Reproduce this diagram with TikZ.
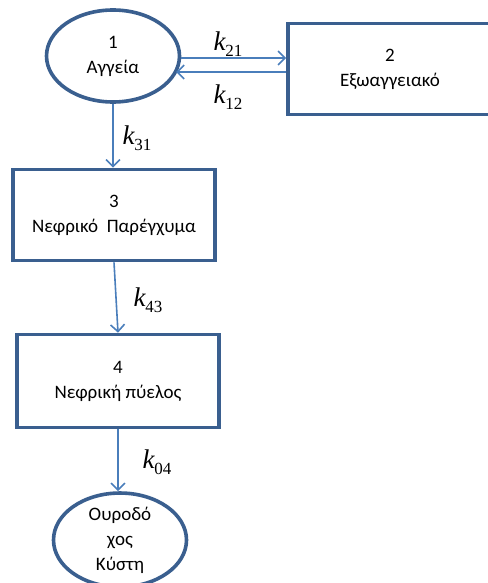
\documentclass[tikz,border=0pt]{standalone}
\usepackage{fontspec}
\setmainfont{Carlito}
\newfontfamily\ratefont{Liberation Serif}
\usetikzlibrary{shapes.geometric,arrows.meta}
\definecolor{boxblue}{HTML}{3A5F8F}
\definecolor{arrowblue}{HTML}{4A7EBB}
\newcommand{\krate}[1]{{\ratefont\fontsize{27}{27}\selectfont\itshape k\raisebox{-6pt}{\fontsize{17}{17}\selectfont\upshape #1}}}
\tikzset{
    comp/.style={draw=boxblue, line width=3.6pt, fill=white, align=center, inner sep=0pt,
        font=\fontsize{19}{25}\selectfont},
    compbox/.style={comp, rectangle, minimum width=202pt, minimum height=91pt},
    compell/.style={comp, ellipse, minimum width=133pt, minimum height=92pt},
    flow/.style={draw=arrowblue, line width=1.6pt, -{Straight Barb[length=7pt,width=14pt,line width=1.6pt]}}
}
\begin{document}
\begin{tikzpicture}[x=1pt,y=-1pt]
        \useasboundingbox (0,0) rectangle (487,583);
        \node[compell] (A) at (113,56) {1\\Αγγεία};
        \node[compbox, minimum width=204pt] (B) at (390,69) {2\\Εξωαγγειακό};
        \node[compbox] (C) at (114,215) {3\\Νεφρικό\ \ Παρέγχυμα};
        \node[compbox, minimum height=93pt] (D) at (118,381) {4\\Νεφρική πύελος};
        \node[compell, minimum height=90pt, font=\fontsize{19}{25}\selectfont] (E) at (120,540) {Ουροδό\\χος\\Κύστη};
        % transfers between compartments
        \coordinate (A1) at (A.east |- 0,58);
        \coordinate (A2) at (176,72);
        \draw[flow] (A1) -- (A1 -| B.west);
        \draw[flow] (A2 -| B.west) -- (A2);
        \draw[flow] (A.south) -- (A.south |- C.north);
        \draw[flow] (C.south) -- (D.north);
        \draw[flow] (D.south) -- (D.south |- E.north);
        % rate constants
        \node (k21) at (228,44) {\krate{21}};
        \node (k12) at (228,97) {\krate{12}};
        \node (k31) at (137,138) {\krate{31}};
        \node (k43) at (148,300) {\krate{43}};
        \node (k04) at (157,462) {\krate{04}};
    \end{tikzpicture}
\end{document}
